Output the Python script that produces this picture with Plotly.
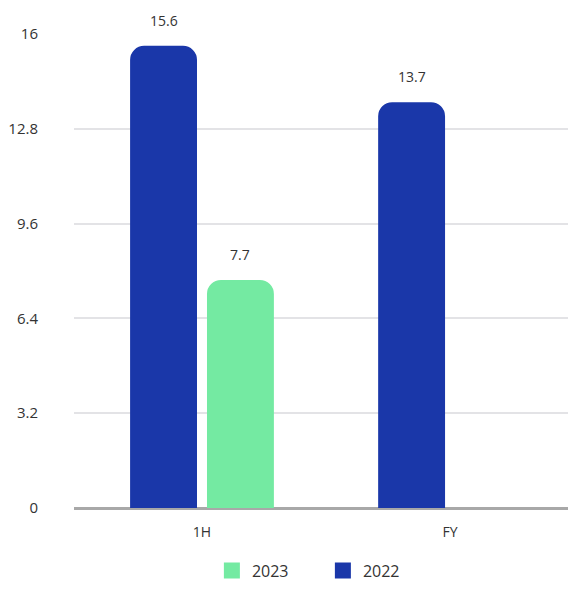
import plotly.graph_objects as go

categories = ["1H", "FY"]
values_2022 = [15.6, 13.7]
values_2023 = [7.7, None]
tick_vals = [0, 3.2, 6.4, 9.6, 12.8, 16]
tick_text = ["0", "3.2", "6.4", "9.6", "12.8", "16"]

color_2022 = "#1a37a9"
color_2023 = "#74eaa2"
font_family = "Open Sans, Lato, sans-serif"

fig = go.Figure()
fig.add_trace(go.Bar(
    x=categories, y=values_2022, name="2022", showlegend=False,
    marker=dict(color=color_2022, line=dict(width=0)),
    offsetgroup="a",
))
fig.add_trace(go.Bar(
    x=categories, y=values_2023, name="2023", showlegend=False,
    marker=dict(color=color_2023, line=dict(width=0)),
    offsetgroup="b",
))

# legend markers
fig.add_trace(go.Scatter(x=[None], y=[None], mode="markers", name="2023",
                         marker=dict(symbol="square", size=20, color=color_2023)))
fig.add_trace(go.Scatter(x=[None], y=[None], mode="markers", name="2022",
                         marker=dict(symbol="square", size=20, color=color_2022)))

# value labels above bars
bargap = 0.38
bar_slot = 0.5 * (1 - bargap)
for i, cat in enumerate(categories):
    for series, offs in ((values_2022, -bar_slot / 2), (values_2023, bar_slot / 2)):
        v = series[i]
        if v is None:
            continue
        fig.add_annotation(x=i + offs, y=v, xref="x", yref="y", text=str(v),
                           showarrow=False, yanchor="bottom", yshift=14,
                           font=dict(size=14, color="#333333", family=font_family))

fig.update_layout(
    width=576, height=589,
    margin=dict(l=62, r=0, t=26, b=89),
    paper_bgcolor="white", plot_bgcolor="white",
    font=dict(family=font_family, size=14, color="#333333"),
    barmode="group", bargap=bargap, bargroupgap=0.13,
    barcornerradius=14,
    showlegend=True,
    legend=dict(orientation="h", x=0.488, xanchor="center",
                yref="container", y=0.016, yanchor="bottom",
                font=dict(size=16, color="#333333"), itemwidth=30,
                entrywidth=66, entrywidthmode="pixels"),
    xaxis=dict(showgrid=False, showline=False, ticks="", zeroline=False,
               range=[-0.516, 1.54], ticklabelstandoff=14,
               tickfont=dict(size=14, color="#333333")),
    yaxis=dict(range=[0, 16], tickvals=tick_vals, ticktext=tick_text,
               showgrid=True, gridcolor="#e3e3e6", gridwidth=2,
               zeroline=True, zerolinecolor="#a8a8a8", zerolinewidth=3,
               showline=False, ticks="", ticklabelstandoff=35,
               tickfont=dict(size=15, color="#333333")),
)

fig.write_html("out.html")
